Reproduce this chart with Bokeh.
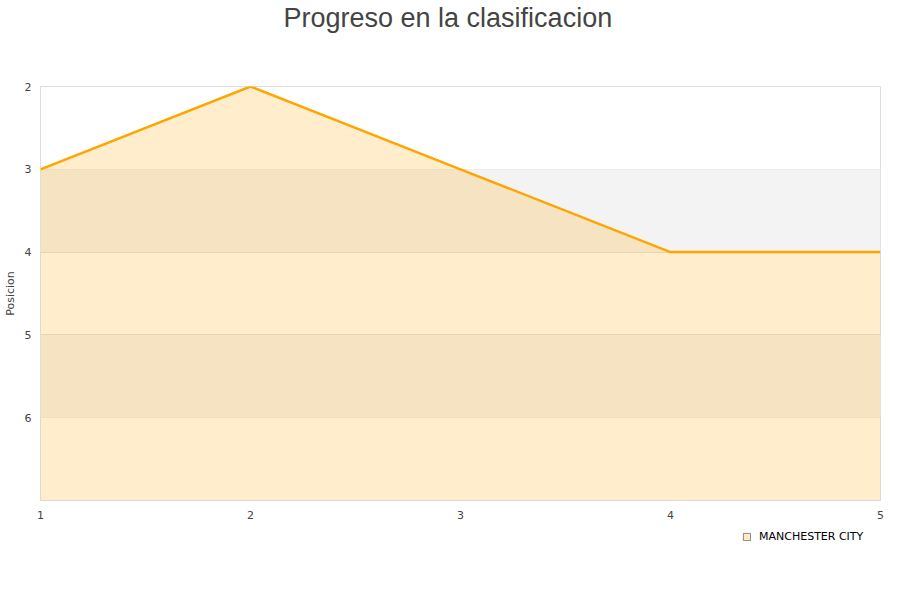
from bokeh.plotting import figure
from bokeh.layouts import column
from bokeh.models import BoxAnnotation, FixedTicker, Legend, LegendItem
from bokeh.embed import file_html
from bokeh.resources import INLINE

title = "Progreso en la clasificacion"
y_label = "Posicion"
team = "MANCHESTER CITY"
jornadas = [1, 2, 3, 4, 5]
posiciones = [3, 2, 3, 4, 4]
y_ticks = [2, 3, 4, 5, 6]
y_min, y_max = 2, 7
bands = [(3, 4), (5, 6)]


def strip(height):
    f = figure(width=900, height=height, x_range=(0, 1), y_range=(0, 1),
               output_backend="svg", toolbar_location=None,
               min_border=0, outline_line_color=None)
    f.axis.visible = False
    f.grid.visible = False
    return f


# title strip
top = strip(78)
top.title.text = title
top.title.align = "left"
top.title.offset = 243
top.title.vertical_align = "top"
top.title.standoff = 4
top.title.text_font = "Liberation Sans"
top.title.text_font_size = "27px"
top.title.text_font_style = "normal"
top.title.text_color = "#444444"

p = figure(width=900, height=446, x_range=(1, 5), y_range=(y_max, y_min),
           output_backend="svg", toolbar_location=None,
           min_border_left=40, min_border_right=20, min_border_top=8,
           min_border_bottom=24)

p.outline_line_color = "#dddddd"
p.background_fill_color = "white"
p.border_fill_color = "white"

for lo, hi in bands:
    p.add_layout(BoxAnnotation(bottom=lo, top=hi, fill_color="#f3f3f3",
                               fill_alpha=1, line_alpha=0, level="underlay"))

area = p.varea(x=jornadas, y1=posiciones, y2=[y_max] * len(jornadas),
               fill_color="#ffa500", fill_alpha=0.2)
line = p.line(jornadas, posiciones, line_color="#ffa500", line_width=2.5)

p.xgrid.visible = False
p.ygrid.grid_line_color = "#e0e0e0"
p.ygrid.ticker = FixedTicker(ticks=[3, 4, 5, 6])

p.xaxis.ticker = FixedTicker(ticks=jornadas)
p.yaxis.ticker = FixedTicker(ticks=y_ticks)
for ax in (p.xaxis, p.yaxis):
    ax.axis_line_color = None
    ax.major_tick_line_color = None
    ax.minor_tick_line_color = None
    ax.major_label_text_font = "DejaVu Sans"
    ax.major_label_text_font_size = "11px"
    ax.major_label_text_color = "#444444"
p.xaxis.major_label_standoff = 4
p.yaxis.major_label_standoff = 3
p.yaxis.axis_label = y_label
p.yaxis.axis_label_text_font = "DejaVu Sans"
p.yaxis.axis_label_text_font_size = "11px"
p.yaxis.axis_label_text_font_style = "normal"
p.yaxis.axis_label_text_color = "#444444"
p.yaxis.axis_label_standoff = 5

# legend strip below the chart
lg = strip(76)
nan = float("nan")
swatch = lg.rect(x=[nan], y=[nan], width=1, height=1, fill_color="#fde9c4",
                 line_color="#888888", line_width=1)
legend = Legend(items=[LegendItem(label=team, renderers=[swatch])],
                location=(702, 57), background_fill_alpha=0,
                border_line_alpha=0, glyph_width=9, glyph_height=9,
                label_text_font="DejaVu Sans", label_text_font_size="11px",
                label_text_color="#000000", padding=0, spacing=0,
                label_standoff=8, margin=0)
lg.add_layout(legend)

layout = column(top, p, lg, spacing=0)
open("out.html", "w").write(file_html(layout, INLINE))
